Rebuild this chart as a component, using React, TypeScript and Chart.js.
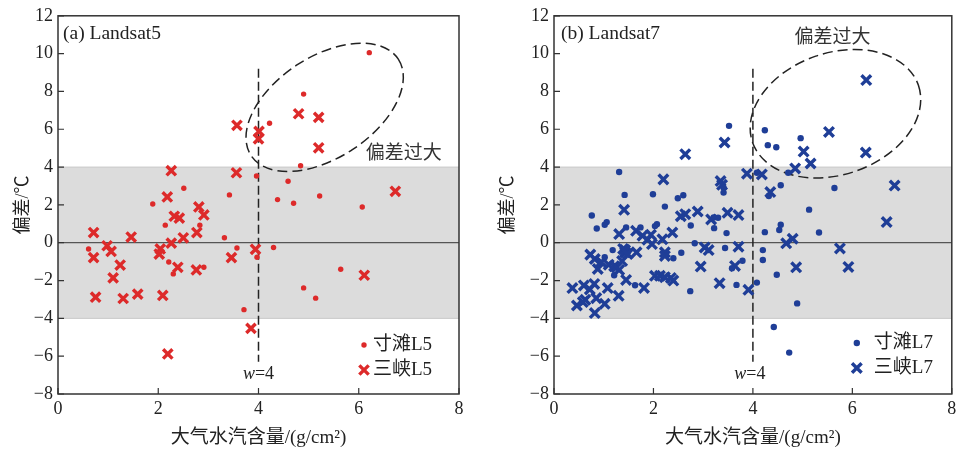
import React, { useEffect, useRef } from "react";
import { Chart, registerables } from "chart.js";

Chart.register(...registerables);

// ---------- data ----------
const X_RANGE = [0, 8];
const Y_RANGE = [-8, 12];
const TICK_STEP = 2;
const BAND = [-4, 4];
const W_THRESHOLD = 4;

const PANEL_LABELS = ["(a) Landsat5", "(b) Landsat7"];
const SERIES_NAMES_L5 = ["寸滩L5", "三峡L5"];
const SERIES_NAMES_L7 = ["寸滩L7", "三峡L7"];
const NOTE_TEXT = "偏差过大";
const X_TITLE = "大气水汽含量/(g/cm²)";
const Y_TITLE = "偏差/℃";

const cuntanL5: [number, number][] = [
  [6.21, 10.05], [4.9, 7.86], [4.22, 6.32], [4.84, 4.07], [3.96, 3.53], [4.59, 3.25],
  [2.51, 2.88], [3.42, 2.53], [5.22, 2.47], [4.38, 2.28], [4.7, 2.09], [6.07, 1.89],
  [1.89, 2.05], [2.14, 0.93], [2.83, 0.93], [3.32, 0.26], [0.61, -0.33], [2.21, -1.02],
  [2.3, -1.65], [2.91, -1.3], [3.57, -0.28], [3.97, -0.77], [4.3, -0.25], [5.64, -1.4],
  [4.9, -2.39], [5.14, -2.93], [3.71, -3.54],
];

const sanxiaL5: [number, number][] = [
  [4.8, 6.82], [5.2, 6.63], [3.57, 6.21], [4.01, 5.89], [4.0, 5.49], [5.2, 5.02],
  [2.26, 3.81], [3.56, 3.7], [6.73, 2.72], [2.18, 2.42], [2.81, 1.89], [2.91, 1.47],
  [2.32, 1.4], [2.42, 1.3], [2.77, 0.54], [0.71, 0.54], [1.46, 0.3], [2.5, 0.26],
  [2.26, -0.02], [0.98, -0.16], [1.06, -0.46], [2.04, -0.33], [2.02, -0.6], [0.71, -0.79],
  [1.24, -1.18], [2.39, -1.3], [2.76, -1.44], [1.1, -1.86], [3.46, -0.79], [3.94, -0.35],
  [6.11, -1.72], [0.75, -2.88], [1.3, -2.95], [1.59, -2.72], [2.09, -2.79], [3.85, -4.53],
  [2.19, -5.88],
];

const cuntanL7: [number, number][] = [
  [4.96, 5.53], [4.24, 5.95], [4.3, 5.16], [4.47, 5.05], [3.52, 6.18], [4.71, 3.7],
  [4.08, 3.7], [4.32, 2.47], [4.56, 3.04], [5.64, 2.89], [1.31, 3.74], [3.41, 2.91],
  [3.41, 2.65], [1.42, 2.53], [1.99, 2.56], [2.49, 2.35], [2.6, 2.51], [2.23, 1.91],
  [0.76, 1.44], [1.06, 1.09], [1.02, 0.95], [0.86, 0.75], [3.21, 1.33], [3.3, 1.32],
  [3.22, 0.77], [2.75, 0.91], [3.47, 0.51], [2.07, 0.98], [2.03, 0.88], [1.45, 0.81],
  [1.74, 0.81], [2.56, -0.53], [2.4, -0.82], [2.83, -0.03], [3.44, -0.28], [3.58, -1.35],
  [3.79, -0.95], [1.63, -2.25], [2.74, -2.56], [3.67, -2.23], [4.08, -2.11], [4.24, 0.56],
  [4.2, -0.39], [4.2, -0.91], [4.48, -1.69], [4.53, 0.67], [4.56, 0.95], [4.89, -3.21],
  [4.42, -4.46], [4.73, -5.81], [5.13, 1.75], [5.33, 0.54], [1.02, -0.77], [1.18, -0.39],
  [1.21, -1.72],
];

const sanxiaL7: [number, number][] = [
  [6.28, 8.6], [5.53, 5.86], [6.27, 4.77], [5.02, 4.82], [5.16, 4.19], [4.85, 3.93],
  [3.43, 5.3], [2.64, 4.68], [4.18, 3.61], [3.88, 3.65], [4.35, 2.68], [6.85, 3.02],
  [2.2, 3.35], [3.35, 3.26], [3.38, 3.06], [1.41, 1.74], [2.55, 1.4], [2.64, 1.51],
  [2.89, 1.65], [3.16, 1.23], [3.49, 1.58], [3.71, 1.46], [1.31, 0.46], [1.65, 0.63],
  [1.78, 0.37], [1.88, 0.16], [1.95, 0.42], [1.97, -0.07], [2.18, 0.18], [2.38, 0.54],
  [1.39, -0.33], [1.43, -0.51], [1.66, -0.51], [2.23, -0.51], [2.23, -0.7], [3.03, -0.25],
  [3.11, -0.39], [3.71, -0.21], [2.95, -1.26], [3.64, -1.23], [2.4, -2.0], [2.35, -1.86],
  [2.03, -1.75], [2.13, -1.75], [2.23, -1.82], [1.81, -2.39], [3.33, -2.14], [3.91, -2.49],
  [4.67, -0.03], [4.8, 0.21], [4.87, -1.3], [5.75, -0.3], [5.92, -1.28], [6.69, 1.09],
  [0.37, -2.4], [0.46, -3.32], [0.58, -3.14], [0.6, -2.26], [0.63, -3.02], [0.72, -2.47],
  [0.81, -2.18], [0.85, -2.93], [0.82, -3.72], [1.02, -3.23], [1.08, -2.4], [1.3, -2.81],
  [1.45, -1.97], [0.73, -0.63], [0.82, -0.86], [0.88, -1.39], [0.95, -1.02], [1.1, -1.16],
  [1.21, -1.24], [1.26, -1.3], [1.31, -1.44], [1.37, -0.97], [1.43, -0.39], [1.48, -0.6],
];

// annotation anchors (data coordinates)
const NOTE_POS_A = [6.9, 4.79];
const NOTE_POS_B = [5.6, 10.95];
const ELLIPSE_CENTER_A = [5.32, 7.16];
const ELLIPSE_CENTER_B = [5.66, 6.82];
const W_LINE_SPAN = [-6.3, 9.2];
const W_LABEL_Y = -6.95;

// ---------- styles ----------
const RED = "#dd2a2a";
const BLUE = "#1f3e97";
const SERIF = '"Liberation Serif", "Noto Sans CJK SC", serif';

type PanelCfg = {
  label: string;
  labelDx: number;
  color: string;
  dotR: number;
  crossR: number;
  ellipse: { c: number[]; a: number; b: number; rot: number };
  note: number[];
  wLabelX: number;
  legend: { dx: number; dy: number; gap: number; names: string[] };
};

const CROSS_WIDTH = 3.4;

function drawCross(ctx: CanvasRenderingContext2D, x: number, y: number, r: number, color: string) {
  const o = Math.cos(Math.PI / 4) * r;
  ctx.save();
  ctx.strokeStyle = color;
  ctx.lineWidth = CROSS_WIDTH;
  ctx.beginPath();
  ctx.moveTo(x - o, y - o);
  ctx.lineTo(x + o, y + o);
  ctx.moveTo(x - o, y + o);
  ctx.lineTo(x + o, y - o);
  ctx.stroke();
  ctx.restore();
}

function makePlugin(cfg: PanelCfg) {
  return {
    id: "panelDeco",
    beforeDatasetsDraw(chart: any) {
      const { ctx, chartArea: ca, scales } = chart;
      const xs = scales.x;
      const ys = scales.y;
      ctx.save();
      const yTop = ys.getPixelForValue(BAND[1]);
      const yBot = ys.getPixelForValue(BAND[0]);
      ctx.fillStyle = "#dcdcdc";
      ctx.fillRect(ca.left, yTop, ca.right - ca.left, yBot - yTop);
      ctx.strokeStyle = "#c8c8c8";
      ctx.lineWidth = 1;
      ctx.beginPath();
      ctx.moveTo(ca.left, yTop);
      ctx.lineTo(ca.right, yTop);
      ctx.moveTo(ca.left, yBot);
      ctx.lineTo(ca.right, yBot);
      ctx.stroke();
      // zero line
      const y0 = ys.getPixelForValue(0);
      ctx.strokeStyle = "#555";
      ctx.lineWidth = 1.3;
      ctx.beginPath();
      ctx.moveTo(ca.left, y0);
      ctx.lineTo(ca.right, y0);
      ctx.stroke();
      // vertical dashed w=4
      const xw = xs.getPixelForValue(W_THRESHOLD);
      ctx.strokeStyle = "#222";
      ctx.lineWidth = 1.5;
      ctx.setLineDash([9, 4]);
      ctx.beginPath();
      ctx.moveTo(xw, ys.getPixelForValue(W_LINE_SPAN[1]));
      ctx.lineTo(xw, ys.getPixelForValue(W_LINE_SPAN[0]));
      ctx.stroke();
      // ellipse
      const e = cfg.ellipse;
      ctx.setLineDash([10, 5]);
      ctx.lineWidth = 1.5;
      ctx.beginPath();
      ctx.ellipse(xs.getPixelForValue(e.c[0]), ys.getPixelForValue(e.c[1]), e.a, e.b, e.rot, 0, Math.PI * 2);
      ctx.stroke();
      ctx.restore();
    },
    afterDraw(chart: any) {
      const { ctx, chartArea: ca, scales } = chart;
      const xs = scales.x;
      const ys = scales.y;
      ctx.save();
      // frame
      ctx.strokeStyle = "#333";
      ctx.lineWidth = 1.5;
      ctx.strokeRect(ca.left, ca.top, ca.right - ca.left, ca.bottom - ca.top);
      // inward ticks
      ctx.lineWidth = 1.2;
      ctx.beginPath();
      ys.ticks.forEach((t: any) => {
        const py = ys.getPixelForValue(t.value);
        ctx.moveTo(ca.left, py);
        ctx.lineTo(ca.left + 6, py);
      });
      xs.ticks.forEach((t: any) => {
        const px = xs.getPixelForValue(t.value);
        ctx.moveTo(px, ca.bottom);
        ctx.lineTo(px, ca.bottom - 6);
      });
      ctx.stroke();
      // panel label
      ctx.fillStyle = "#222";
      ctx.font = `19.5px ${SERIF}`;
      ctx.textAlign = "left";
      ctx.textBaseline = "middle";
      ctx.fillText(cfg.label, ca.left + cfg.labelDx, ca.top + 18);
      // note
      ctx.font = `19px "Noto Sans CJK SC", sans-serif`;
      ctx.textAlign = "center";
      ctx.fillStyle = "#333";
      ctx.fillText(NOTE_TEXT, xs.getPixelForValue(cfg.note[0]), ys.getPixelForValue(cfg.note[1]));
      // w=4 label
      const wy = ys.getPixelForValue(W_LABEL_Y);
      ctx.fillStyle = "#222";
      ctx.font = `italic 18px ${SERIF}`;
      const wW = ctx.measureText("w").width;
      ctx.font = `18px ${SERIF}`;
      const restW = ctx.measureText("=" + W_THRESHOLD).width;
      const cx = xs.getPixelForValue(cfg.wLabelX);
      const startX = cx - (wW + restW) / 2;
      ctx.textAlign = "left";
      ctx.font = `italic 18px ${SERIF}`;
      ctx.fillText("w", startX, wy);
      ctx.font = `18px ${SERIF}`;
      ctx.fillText("=" + W_THRESHOLD, startX + wW, wy);
      // legend
      const lg = cfg.legend;
      const mx = ca.right - lg.dx;
      const my1 = ca.bottom - lg.dy;
      const my2 = my1 + 25;
      ctx.fillStyle = cfg.color;
      ctx.beginPath();
      ctx.arc(mx, my1, cfg.dotR, 0, Math.PI * 2);
      ctx.fill();
      drawCross(ctx, mx, my2, cfg.crossR, cfg.color);
      ctx.fillStyle = "#222";
      ctx.font = `19px ${SERIF}`;
      ctx.textAlign = "left";
      ctx.fillText(lg.names[0], mx + lg.gap, my1);
      ctx.fillText(lg.names[1], mx + lg.gap, my2);
      ctx.restore();
    },
  };
}

function buildConfig(
  dots: [number, number][],
  crosses: [number, number][],
  names: string[],
  cfg: PanelCfg,
  yAxisWidth: number,
  yTitlePad: number,
  rightPad: number
): any {
  const toPts = (arr: [number, number][]) => arr.map(([x, y]) => ({ x, y }));
  return {
    type: "scatter",
    data: {
      datasets: [
        {
          label: names[0],
          data: toPts(dots),
          pointStyle: "circle",
          pointRadius: cfg.dotR,
          pointHoverRadius: cfg.dotR,
          backgroundColor: cfg.color,
          borderColor: cfg.color,
          borderWidth: 0,
        },
        {
          label: names[1],
          data: toPts(crosses),
          pointStyle: "crossRot",
          pointRadius: cfg.crossR,
          pointHoverRadius: cfg.crossR,
          backgroundColor: cfg.color,
          borderColor: cfg.color,
          borderWidth: CROSS_WIDTH,
        },
      ],
    },
    options: {
      responsive: false,
      animation: false,
      events: [],
      layout: { padding: { top: 14, right: rightPad, left: 0, bottom: 0 } },
      plugins: { legend: { display: false }, tooltip: { enabled: false } },
      scales: {
        x: {
          type: "linear",
          min: X_RANGE[0],
          max: X_RANGE[1],
          afterFit: (s: any) => {
            s.height = 57;
          },
          ticks: {
            stepSize: TICK_STEP,
            color: "#222",
            padding: 4,
            font: { family: SERIF, size: 18 },
          },
          grid: { display: false, drawTicks: false },
          border: { display: false },
          title: {
            display: true,
            text: X_TITLE,
            color: "#222",
            padding: { top: 0, bottom: 2 },
            font: { family: SERIF, size: 19 },
          },
        },
        y: {
          type: "linear",
          min: Y_RANGE[0],
          max: Y_RANGE[1],
          afterFit: (s: any) => {
            s.width = yAxisWidth;
          },
          ticks: {
            stepSize: TICK_STEP,
            color: "#222",
            padding: 5,
            font: { family: SERIF, size: 18 },
            callback: (v: number) => (v < 0 ? "−" + Math.abs(v) : String(v)),
          },
          grid: { display: false, drawTicks: false },
          border: { display: false },
          title: {
            display: true,
            text: Y_TITLE,
            color: "#222",
            padding: { top: yTitlePad, bottom: 0 },
            font: { family: SERIF, size: 18 },
          },
        },
      },
    },
    plugins: [makePlugin(cfg)],
  };
}

const PANEL_A: PanelCfg = {
  label: PANEL_LABELS[0],
  labelDx: 5,
  color: RED,
  dotR: 2.7,
  crossR: 6.6,
  ellipse: { c: ELLIPSE_CENTER_A, a: 88, b: 50.6, rot: (-33.2 * Math.PI) / 180 },
  note: NOTE_POS_A,
  wLabelX: W_THRESHOLD,
  legend: { dx: 95, dy: 49, gap: 9, names: SERIES_NAMES_L5 },
};

const PANEL_B: PanelCfg = {
  label: PANEL_LABELS[1],
  labelDx: 7,
  color: BLUE,
  dotR: 3.2,
  crossR: 6.8,
  ellipse: { c: ELLIPSE_CENTER_B, a: 87.7, b: 60.9, rot: (-18.9 * Math.PI) / 180 },
  note: NOTE_POS_B,
  wLabelX: 3.94,
  legend: { dx: 95, dy: 51, gap: 17, names: SERIES_NAMES_L7 },
};

function Panel(props: { build: () => any; width: number; left: number }) {
  const ref = useRef<HTMLCanvasElement | null>(null);
  useEffect(() => {
    if (!ref.current) return;
    const chart = new Chart(ref.current, props.build());
    return () => chart.destroy();
  }, []);
  return (
    <canvas
      ref={ref}
      width={props.width}
      height={451}
      style={{ position: "absolute", left: props.left, top: 0, width: props.width, height: 451 }}
    />
  );
}

export default function App() {
  return (
    <div style={{ position: "fixed", left: 0, top: 0, width: 962, height: 451, background: "#fff" }}>
      <Panel
        left={0}
        width={481}
        build={() => buildConfig(cuntanL5, sanxiaL5, SERIES_NAMES_L5, PANEL_A, 58, 12, 22)}
      />
      <Panel
        left={481}
        width={481}
        build={() => buildConfig(cuntanL7, sanxiaL7, SERIES_NAMES_L7, PANEL_B, 73, 16, 7)}
      />
    </div>
  );
}
